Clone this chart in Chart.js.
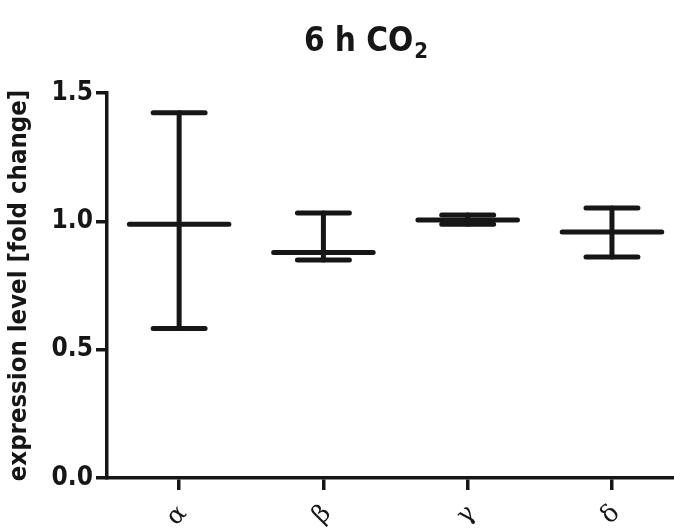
<!DOCTYPE html>
<html>
<head>
<meta charset="utf-8">
<script src="https://cdn.jsdelivr.net/npm/chart.js@4"></script>
<style>
html,body{margin:0;padding:0;background:#fff;overflow:hidden;}
#wrap{width:674px;height:532px;}
</style>
</head>
<body>
<div id="wrap"><canvas id="c" width="674" height="532"></canvas></div>
<script>
const titleMain = '6 h CO';
const titleSub = '2';
const yAxisTitle = 'expression level [fold change]';
const categories = ['α', 'β', 'γ', 'δ'];
const means = [0.989, 0.879, 1.005, 0.958];
const upper = [1.423, 1.032, 1.025, 1.052];
const lower = [0.582, 0.849, 0.989, 0.861];
const yTicks = [0, 0.5, 1.0, 1.5];

const INK = '#161616';
const SANS = "'Liberation Sans Narrow', 'DejaVu Sans Condensed', 'Liberation Sans', Arial, sans-serif";
const MEAN_HALF = 0.345, CAP_HALF = 0.18;

function segs(fn) {
  const out = [];
  categories.forEach((c, i) => { fn(i).forEach(p => out.push(p)); out.push({x: i, y: null}); });
  return out;
}
const meanPts = segs(i => [{x: i - MEAN_HALF, y: means[i]}, {x: i + MEAN_HALF, y: means[i]}]);
const stemPts = segs(i => [{x: i, y: lower[i]}, {x: i, y: upper[i]}]);
const capPts = [
  ...segs(i => [{x: i - CAP_HALF, y: upper[i]}, {x: i + CAP_HALF, y: upper[i]}]),
  ...segs(i => [{x: i - CAP_HALF, y: lower[i]}, {x: i + CAP_HALF, y: lower[i]}])
];

function lineDs(data) {
  return {data, showLine: true, spanGaps: false, borderColor: INK, borderWidth: 5,
    borderCapStyle: 'round', pointRadius: 0, pointHoverRadius: 0, fill: false, tension: 0};
}

const titlePlugin = {
  id: 'subTitle',
  afterDraw(chart) {
    const ctx = chart.ctx;
    ctx.save();
    ctx.fillStyle = INK;
    ctx.textBaseline = 'alphabetic';
    ctx.font = "bold 33px " + SANS;
    const w1 = ctx.measureText(titleMain).width;
    ctx.font = "bold 22px " + SANS;
    const w2 = ctx.measureText(titleSub).width;
    const cx = 366;
    const x0 = cx - (w1 + w2 + 1) / 2;
    ctx.font = "bold 33px " + SANS;
    ctx.fillText(titleMain, x0, 51);
    ctx.font = "bold 22px " + SANS;
    ctx.fillText(titleSub, x0 + w1 + 1, 58);
    ctx.restore();
  }
};

new Chart(document.getElementById('c'), {
  type: 'scatter',
  data: {datasets: [lineDs(stemPts), lineDs(capPts), lineDs(meanPts)]},
  plugins: [titlePlugin],
  options: {
    responsive: false,
    animation: false,
    events: [],
    layout: {padding: {top: 93, left: 0, right: 0, bottom: 0}},
    plugins: {legend: {display: false}, tooltip: {enabled: false}, title: {display: false}},
    scales: {
      x: {
        type: 'linear', min: -0.5, max: 3.43,
        afterBuildTicks: s => { s.ticks = categories.map((c, i) => ({value: i})); },
        afterFit: s => { s.height = 54; },
        grid: {display: true, drawOnChartArea: false, drawTicks: true, tickLength: 12, color: INK, lineWidth: 3.5},
        border: {display: true, color: INK, width: 3.5},
        ticks: {
          color: INK, autoSkip: false, minRotation: 45, maxRotation: 45, padding: 9, labelOffset: 4,
          font: {family: "'DejaVu Serif', 'Liberation Serif', serif", size: 25},
          callback: v => categories[v]
        }
      },
      y: {
        type: 'linear', min: 0, max: 1.5,
        afterBuildTicks: s => { s.ticks = yTicks.map(v => ({value: v})); },
        afterFit: s => { s.width = 107; },
        grid: {display: true, drawOnChartArea: false, drawTicks: true, tickLength: 11, color: INK, lineWidth: 3.5},
        border: {display: true, color: INK, width: 3.5},
        ticks: {color: INK, padding: 3, font: {family: SANS, size: 26, weight: 'bold'}, callback: v => v.toFixed(1)},
        title: {display: true, text: yAxisTitle, color: INK, padding: {top: 4, bottom: 0},
          font: {family: SANS, size: 25.5, weight: 'bold'}}
      }
    }
  }
});
</script>
</body>
</html>
